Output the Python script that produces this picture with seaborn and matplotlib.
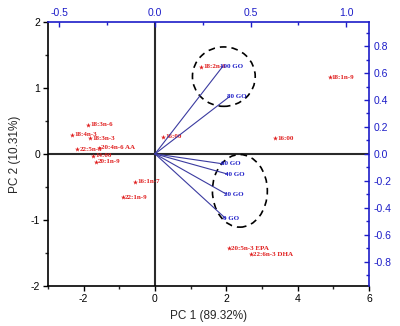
import numpy as np
import pandas as pd
import matplotlib
matplotlib.use("Agg")
import matplotlib.pyplot as plt
from matplotlib.patches import Ellipse
from matplotlib.ticker import MultipleLocator, FormatStrFormatter
import seaborn as sns

# fatty acid scores (bottom / left axes)
acids = ["18:3n-6", "18:4n-3", "18:3n-3", "22:5n-3", "20:4n-6 AA", "14:00",
         "20:1n-9", "16:00", "16:1n-7", "22:1n-9", "18:2n-6", "18:1n-9",
         "16:00", "20:5n-3 EPA", "22:6n-3 DHA"]
pc1 = [-1.88, -2.32, -1.82, -2.18, -1.57, -1.73, -1.66, 0.23, -0.56, -0.90,
       1.29, 4.90, 3.36, 2.07, 2.68]
pc2 = [0.44, 0.29, 0.24, 0.07, 0.09, -0.03, -0.12, 0.26, -0.42, -0.66,
       1.32, 1.16, 0.24, -1.43, -1.52]

# GO loadings (top / right axes)
samples = ["100 GO", "80 GO", "60 GO", "40 GO", "20 GO", "0 GO"]
load1 = [0.355, 0.39, 0.36, 0.38, 0.375, 0.37]
load2 = [0.65, 0.425, -0.075, -0.15, -0.30, -0.48]

sns.set_theme(style="ticks")
plt.rcParams["font.family"] = ["Liberation Sans", "DejaVu Sans"]
plt.rcParams["axes.unicode_minus"] = False

red = "#e01e1e"
blue = "#1c1cc8"

fig = plt.figure(figsize=(4, 3.26), dpi=100)
pos = [0.12, 0.123, 0.8025, 0.81]
ax = fig.add_axes(pos)

df = pd.DataFrame({"acid": acids, "pc1": pc1, "pc2": pc2})
sns.scatterplot(data=df, x="pc1", y="pc2", marker="*", color=red, s=14,
                linewidth=0, ax=ax, zorder=4)
for name, x, y in zip(acids, pc1, pc2):
    ax.text(x + 0.06, y, name, color=red, fontsize=5, fontweight="bold",
            family="Liberation Serif", ha="left", va="center", zorder=5)

ax.axhline(0, color="#2a2a2a", lw=1.5, zorder=1)
ax.axvline(0, color="#2a2a2a", lw=1.5, zorder=1)

ax.add_patch(Ellipse((1.93, 1.17), 1.76, 0.90, fill=False, ls=(0, (4, 3)),
                     lw=1.2, ec="black", zorder=3))
ax.add_patch(Ellipse((2.38, -0.56), 1.54, 1.10, fill=False, ls=(0, (4, 3)),
                     lw=1.2, ec="black", zorder=3))

ax.set_xlim(-3, 6)
ax.set_ylim(-2, 2)
ax.xaxis.set_major_locator(MultipleLocator(2))
ax.xaxis.set_minor_locator(MultipleLocator(1))
ax.yaxis.set_major_locator(MultipleLocator(1))
ax.yaxis.set_minor_locator(MultipleLocator(0.5))
ax.tick_params(which="major", length=3.5, width=1, labelsize=7.5,
               colors="black", pad=2)
ax.tick_params(which="minor", length=2, width=1)
ax.set_xlabel("PC 1 (89.32%)", fontsize=8.5, labelpad=5)
ax.set_ylabel("PC 2 (10.31%)", fontsize=8.5, labelpad=7)
for s in ["left", "bottom"]:
    ax.spines[s].set_color("black")
    ax.spines[s].set_linewidth(1.2)
ax.spines["top"].set_visible(False)
ax.spines["right"].set_visible(False)

# loadings axes on top / right
ax2 = fig.add_axes(pos)
ax2.patch.set_visible(False)
ax2.set_xlim(-0.56, 1.12)
ax2.set_ylim(-0.98, 0.98)
ax2.xaxis.tick_top()
ax2.yaxis.tick_right()
ax2.xaxis.set_major_locator(MultipleLocator(0.5))
ax2.xaxis.set_minor_locator(MultipleLocator(0.25))
ax2.yaxis.set_major_locator(MultipleLocator(0.2))
ax2.yaxis.set_minor_locator(MultipleLocator(0.1))
ax2.set_yticks([-0.8, -0.6, -0.4, -0.2, 0.0, 0.2, 0.4, 0.6, 0.8])
ax2.tick_params(which="major", direction="in", length=3.5, width=1,
                labelsize=7.5, colors=blue, pad=3)
ax2.tick_params(which="minor", direction="in", length=2, width=1, colors=blue)
ax2.xaxis.set_major_formatter(FormatStrFormatter("%.1f"))
ax2.yaxis.set_major_formatter(FormatStrFormatter("%.1f"))
for s in ["top", "right"]:
    ax2.spines[s].set_color(blue)
    ax2.spines[s].set_linewidth(1.2)
ax2.spines["left"].set_visible(False)
ax2.spines["bottom"].set_visible(False)

for name, x, y in zip(samples, load1, load2):
    ax2.plot([0, x], [0, y], color="#3b3ba0", lw=0.8, zorder=2)
    ax2.text(x - 0.015, y, name, color=blue, fontsize=5, fontweight="bold",
             family="Liberation Serif", ha="left", va="center", zorder=5)

fig.savefig("out.png", dpi=100)
